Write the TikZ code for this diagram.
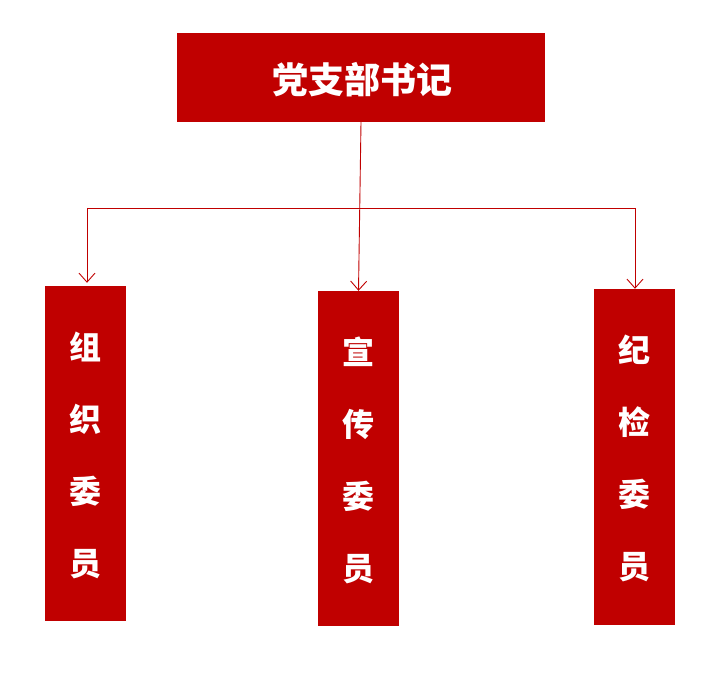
\documentclass[tikz,border=0pt]{standalone}
\usepackage{fontspec}
\newfontfamily\cjk{Noto Sans CJK SC}
\usetikzlibrary{arrows.meta}
\definecolor{boxred}{HTML}{C00000}
\begin{document}
\begin{tikzpicture}[x=1pt,y=-1pt,
  redbox/.style={fill=boxred,draw=none,inner sep=0pt},
  vtext/.style={text=white,align=center,inner sep=0pt,font=\cjk\bfseries\fontsize{32}{72}\selectfont},
  conn/.style={draw=boxred,line width=0.9pt},
  arr/.style={conn,-{Straight Barb[length=9pt,width=16pt,line width=0.9pt]}}]
\useasboundingbox (0,0) rectangle (715,676);
\node[redbox,minimum width=368pt,minimum height=89pt] (top) at (361,77.5) {};
\node[text=white,font=\cjk\bfseries\fontsize{36}{40}\selectfont,inner sep=0pt] (title) at (362,80) {党支部书记};
\node[redbox,minimum width=81pt,minimum height=335pt] (left) at (85.5,453.5) {};
\node[redbox,minimum width=81pt,minimum height=335pt] (mid) at (358.5,458.5) {};
\node[redbox,minimum width=81pt,minimum height=336pt] (right) at (634.5,457) {};
\node[vtext] (lefttext) at (85.5,455) {组\\织\\委\\员};
\node[vtext] (midtext) at (358.5,460) {宣\\传\\委\\员};
\node[vtext] (righttext) at (634.5,458) {纪\\检\\委\\员};
\coordinate (jl) at (87,208);
\coordinate (jr) at (635,208);
\draw[conn] (jl) -- (jr);
\draw[arr] (top.south) -- (mid.north);
\draw[arr,shorten >=3pt] (jl) -- (jl |- left.north);
\draw[arr] (jr) -- (jr |- right.north);
\end{tikzpicture}
\end{document}
